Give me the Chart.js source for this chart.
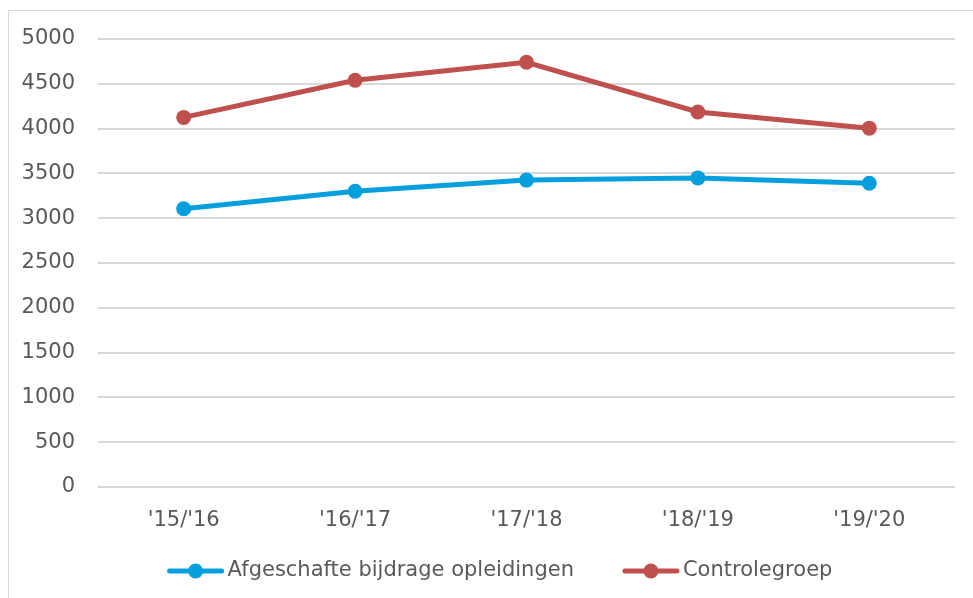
<!DOCTYPE html>
<html>
<head>
<meta charset="utf-8">
<script src="https://cdn.jsdelivr.net/npm/chart.js@4"></script>
<style>
  html, body { margin: 0; padding: 0; background: #fff; overflow: hidden; }
  #wrap { position: relative; width: 973px; height: 598px; }
  #frame { position: absolute; left: 8px; top: 10px; width: 990px; height: 620px; border: 1px solid #d9d9d9; box-sizing: border-box; }
  canvas { position: absolute; left: 0; top: 0; }
</style>
</head>
<body>
<div id="wrap">
  <div id="frame"></div>
  <canvas id="chart" width="973" height="598"></canvas>
</div>
<script>
var labels = ["'15/'16", "'16/'17", "'17/'18", "'18/'19", "'19/'20"];
var afgeschafte = [3105, 3300, 3425, 3450, 3390];
var controlegroep = [4125, 4540, 4740, 4185, 4005];
var yTicks = [0, 500, 1000, 1500, 2000, 2500, 3000, 3500, 4000, 4500, 5000];

var blue = '#069FDE';
var red = '#C0504D';
var textColor = '#595959';
var fontFamily = '"DejaVu Sans", sans-serif';
var fontSize = 21;

// own legend: Excel style line marker with a dot in the middle
var lineLegend = {
    id: 'lineLegend',
    afterDraw: function(chart) {
        var ctx = chart.ctx;
        var sets = chart.data.datasets;
        var markW = 56, textGap = 4, itemGap = 49, y = 571;
        ctx.save();
        ctx.font = fontSize + 'px ' + fontFamily;
        var total = 0;
        sets.forEach(function(ds, i) {
            total += markW + textGap + ctx.measureText(ds.label).width;
            if (i > 0) total += itemGap;
        });
        var x = 500 - total / 2;
        sets.forEach(function(ds) {
            ctx.strokeStyle = ds.borderColor;
            ctx.lineWidth = 5;
            ctx.lineCap = 'round';
            ctx.beginPath();
            ctx.moveTo(x + 2, y);
            ctx.lineTo(x + markW - 2, y);
            ctx.stroke();
            ctx.fillStyle = ds.borderColor;
            ctx.beginPath();
            ctx.arc(x + markW / 2, y, 7.5, 0, Math.PI * 2);
            ctx.fill();
            x += markW + textGap;
            ctx.fillStyle = textColor;
            ctx.textBaseline = 'middle';
            ctx.textAlign = 'left';
            ctx.fillText(ds.label, x, y);
            x += ctx.measureText(ds.label).width + itemGap;
        });
        ctx.restore();
    }
};

var ctx = document.getElementById('chart').getContext('2d');
var myChart = new Chart(ctx, {
    type: 'line',
    data: {
        labels: labels,
        datasets: [
            {
                label: 'Afgeschafte bijdrage opleidingen',
                data: afgeschafte,
                borderColor: blue,
                backgroundColor: blue,
                borderWidth: 5,
                pointRadius: 7.5,
                pointHoverRadius: 7.5,
                pointBorderWidth: 0,
                tension: 0
            },
            {
                label: 'Controlegroep',
                data: controlegroep,
                borderColor: red,
                backgroundColor: red,
                borderWidth: 5,
                pointRadius: 7.5,
                pointHoverRadius: 7.5,
                pointBorderWidth: 0,
                tension: 0
            }
        ]
    },
    options: {
        responsive: false,
        animation: false,
        layout: { padding: { top: 39, right: 18, bottom: 51, left: 0 } },
        plugins: {
            tooltip: { enabled: false },
            legend: { display: false }
        },
        scales: {
            x: {
                offset: true,
                grid: { display: false, drawTicks: false },
                border: { display: false },
                ticks: { color: textColor, padding: 21, font: { family: fontFamily, size: fontSize } },
                afterFit: function(scale) { scale.height = 60; }
            },
            y: {
                min: 0,
                max: 5000,
                afterBuildTicks: function(scale) {
                    scale.ticks = yTicks.map(function(v) { return { value: v }; });
                },
                grid: { color: '#d9d9d9', lineWidth: 2, drawTicks: false },
                border: { display: false },
                ticks: {
                    color: textColor,
                    padding: 23,
                    font: { family: fontFamily, size: fontSize },
                    callback: function(value) { return String(value); }
                },
                afterFit: function(scale) { scale.width = 98; }
            }
        }
    },
    plugins: [lineLegend]
});
</script>
</body>
</html>
